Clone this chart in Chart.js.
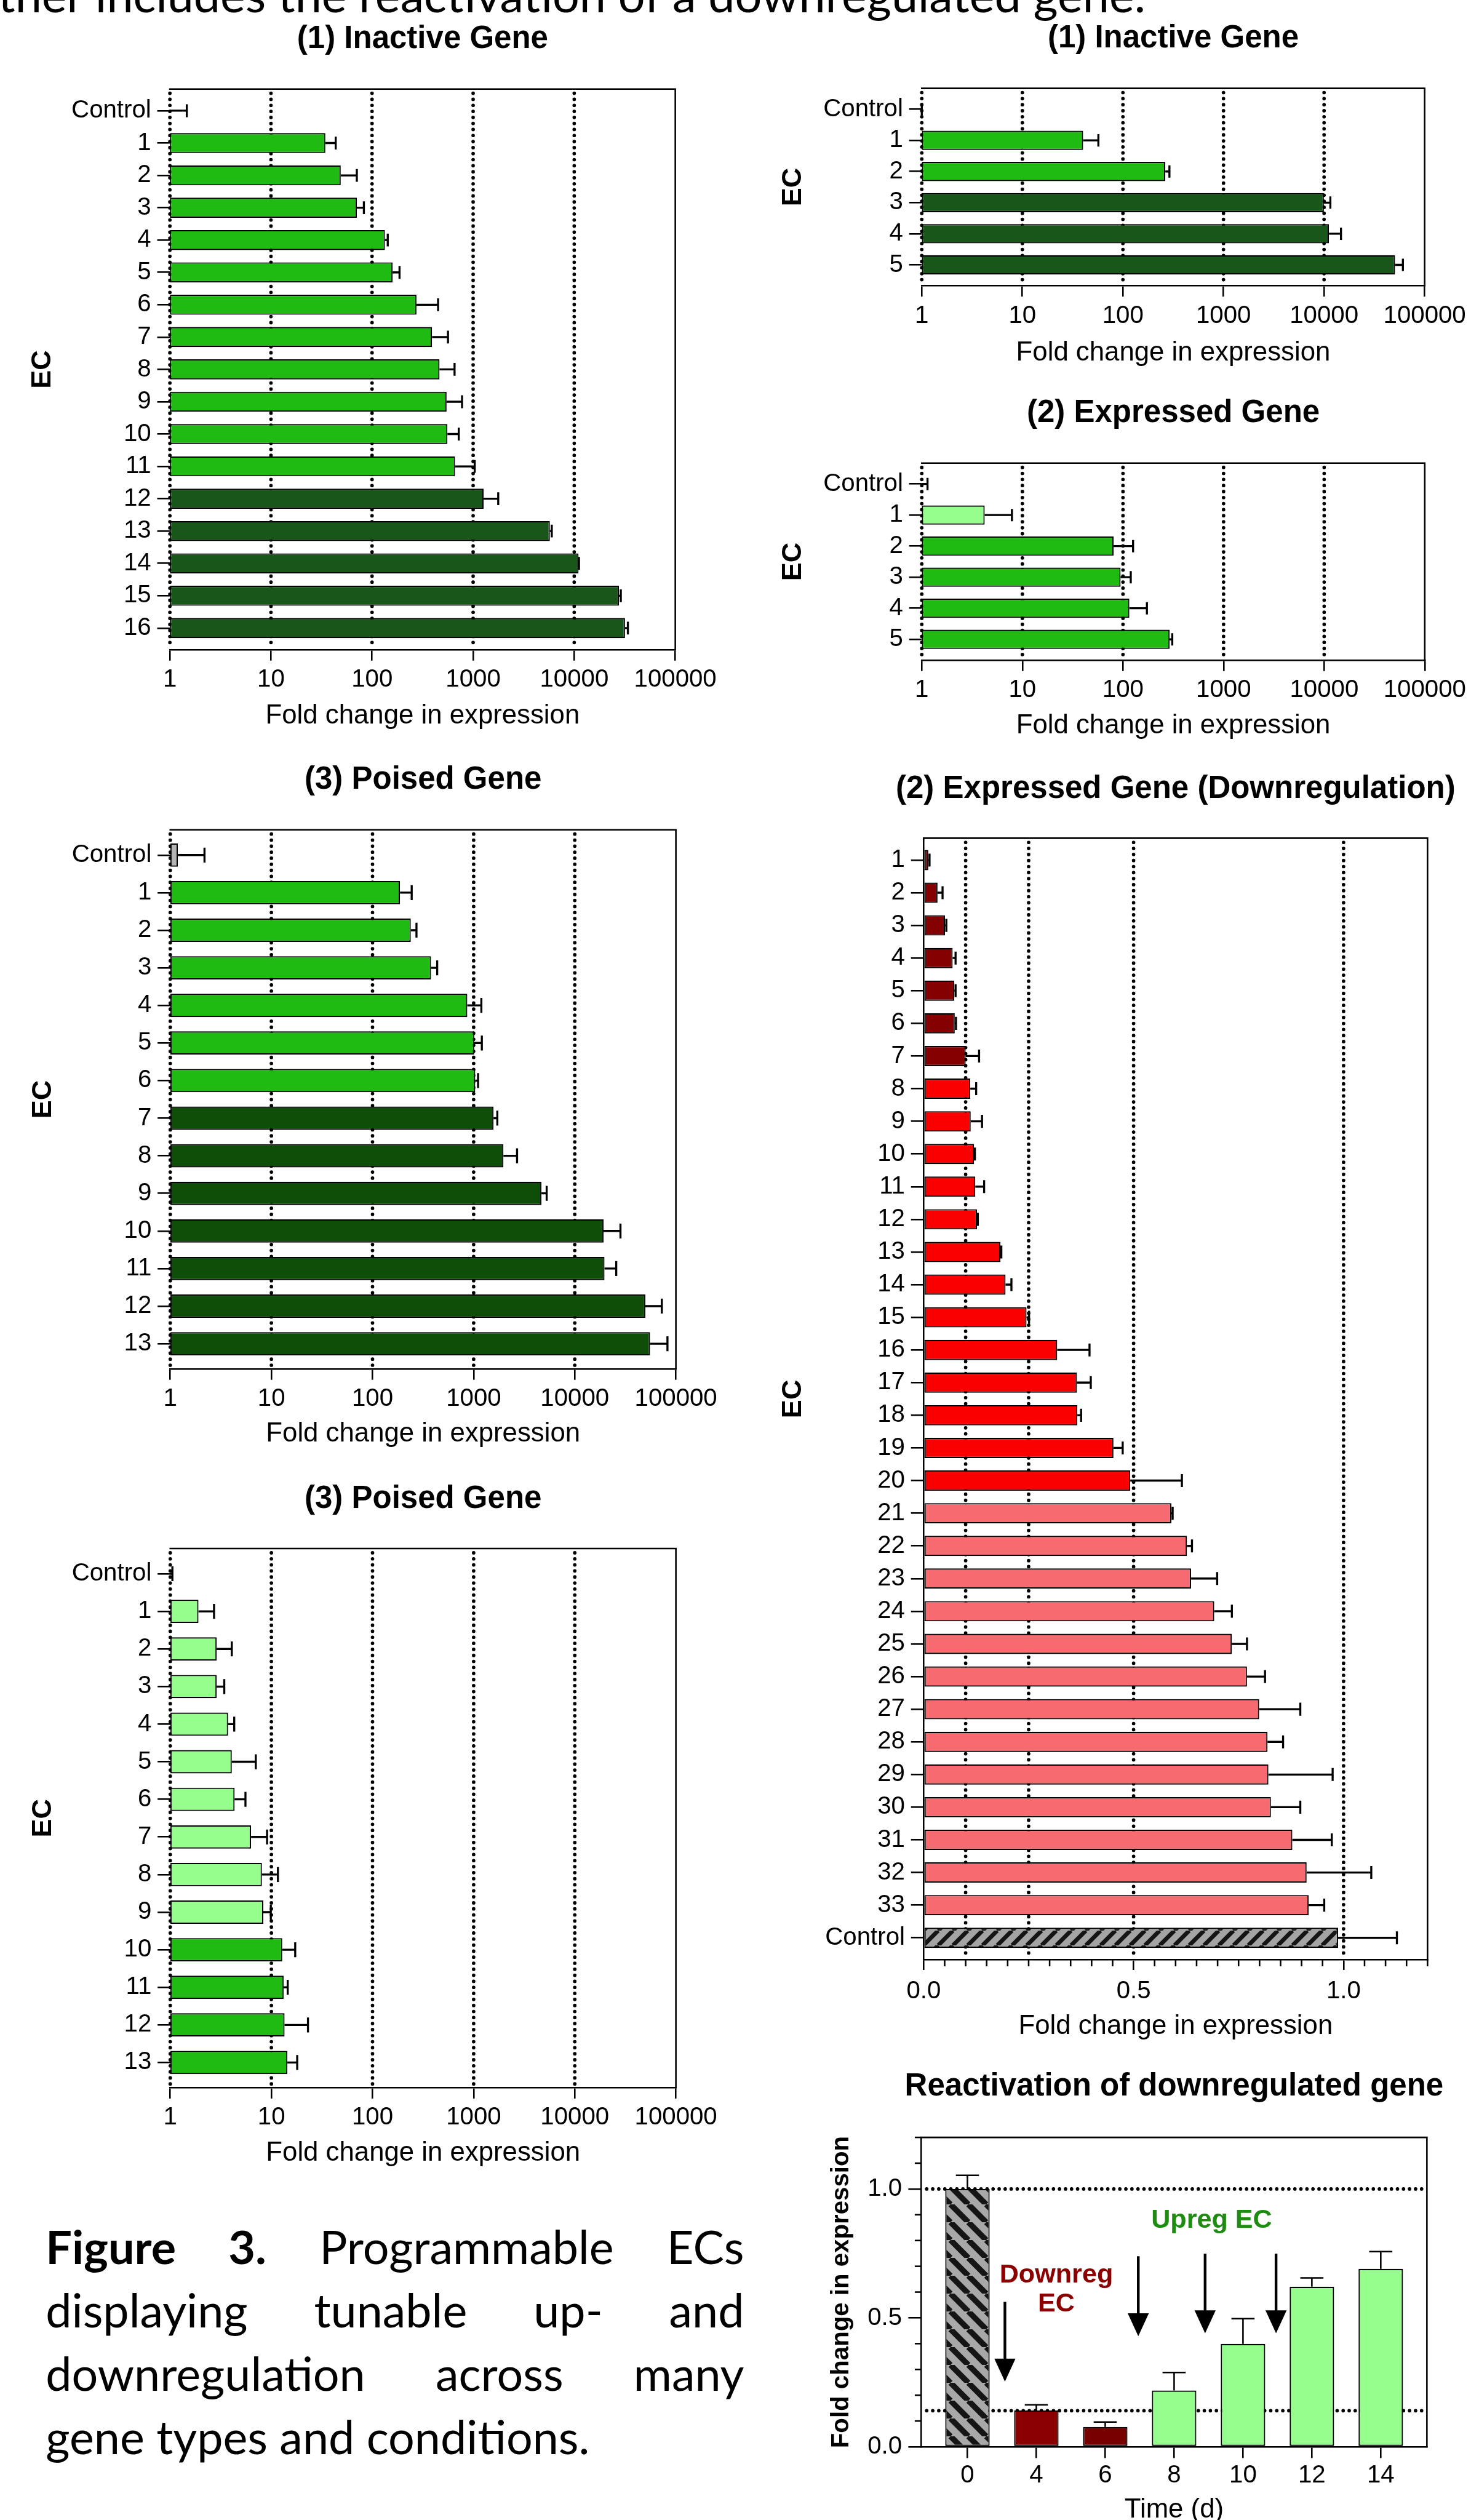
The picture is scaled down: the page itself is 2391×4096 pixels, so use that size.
<!DOCTYPE html>
<html>
<head>
<meta charset="utf-8">
<script src="https://cdn.jsdelivr.net/npm/chart.js@4.4.1/dist/chart.umd.min.js"></script>
<style>
html, body { margin:0; padding:0; background:#fff; }
body { width:2391px; height:4096px; overflow:hidden; position:relative; }
canvas { position:absolute; }
.txt { position:absolute; font-family:Lato, 'Open Sans', sans-serif; color:#000; white-space:nowrap; line-height:1; }
</style>
</head>
<body>
<script>
// ===================== DATA =====================
const logTickValues = [1, 10, 100, 1000, 10000, 100000];
const logTickLabels = ['1', '10', '100', '1000', '10000', '100000'];

// (1) Inactive Gene — left, 16 ECs
const inact16Labels = ['Control','1','2','3','4','5','6','7','8','9','10','11','12','13','14','15','16'];
const inact16Values = [1, 34.5, 49, 70.7, 134, 160, 275, 392, 465, 546, 557, 662, 1271, 5741, 11040, 27700, 31800];
const inact16ErrEnd = [1.47, 43.7, 70.7, 83, 143, 187, 450, 564, 655, 777, 721, 1037, 1771, 5997, 11150, 28900, 33950];
const inact16Groups = ['ctrl','mid','mid','mid','mid','mid','mid','mid','mid','mid','mid','mid','dark','dark','dark','dark','dark'];

// (1) Inactive Gene — right, 5 ECs
const inact5Labels = ['Control','1','2','3','4','5'];
const inact5Values = [1, 40.2, 264, 9960, 11190, 50800];
const inact5ErrEnd = [1, 57, 290, 11550, 14730, 60800];
const inact5Groups = ['ctrl','mid','mid','dark','dark','dark'];

// (2) Expressed Gene
const exprLabels = ['Control','1','2','3','4','5'];
const exprValues = [1, 4.22, 80.8, 94.7, 115.7, 290.6];
const exprErrEnd = [1.14, 7.87, 126, 119.5, 173, 309];
const exprGroups = ['ctrl','pale','mid','mid','mid','mid'];

// (3) Poised Gene — strong
const poised1Labels = ['Control','1','2','3','4','5','6','7','8','9','10','11','12','13'];
const poised1Values = [1.19, 187, 239, 379, 865, 1014, 1037, 1574, 1971, 4690, 19250, 19670, 49900, 55500];
const poised1ErrEnd = [2.18, 244, 272, 436, 1192, 1205, 1106, 1715, 2687, 5274, 28300, 25700, 72600, 82500];
const poised1Groups = ['grey','mid','mid','mid','mid','mid','mid','dark2','dark2','dark2','dark2','dark2','dark2','dark2'];

// (3) Poised Gene — weak
const poised2Labels = ['Control','1','2','3','4','5','6','7','8','9','10','11','12','13'];
const poised2Values = [1, 1.90, 2.88, 2.88, 3.73, 4.06, 4.33, 6.3, 8.06, 8.32, 12.8, 13.2, 13.5, 14.4];
const poised2ErrEnd = [1.05, 2.71, 4.06, 3.42, 4.29, 7.01, 5.54, 9.06, 11.6, 9.87, 17.2, 14.5, 23, 18];
const poised2Groups = ['ctrl','pale','pale','pale','pale','pale','pale','pale','pale','pale','mid','mid','mid','mid'];

// (2) Expressed Gene (Downregulation)
const downLabels = ['1','2','3','4','5','6','7','8','9','10','11','12','13','14','15','16','17','18','19','20','21','22','23','24','25','26','27','28','29','30','31','32','33','Control'];
const downValues = [0.011,0.033,0.051,0.069,0.073,0.074,0.100,0.111,0.112,0.120,0.123,0.127,0.183,0.195,0.245,0.318,0.365,0.366,0.452,0.492,0.590,0.627,0.637,0.692,0.734,0.770,0.799,0.819,0.821,0.827,0.878,0.912,0.917,0.987];
const downErrEnd = [0.014,0.045,0.054,0.076,0.076,0.077,0.132,0.125,0.139,0.122,0.144,0.129,0.185,0.209,0.251,0.395,0.398,0.375,0.474,0.615,0.593,0.639,0.699,0.734,0.770,0.813,0.897,0.856,0.974,0.897,0.972,1.066,0.954,1.127];
const downGroups = ['dred','dred','dred','dred','dred','dred','dred','red','red','red','red','red','red','red','red','red','red','red','red','red','pink','pink','pink','pink','pink','pink','pink','pink','pink','pink','pink','pink','pink','hatchF'];
const downTickValues = [0, 0.5, 1.0];
const downTickLabels = ['0.0', '0.5', '1.0'];
const downMinorTicks = [0.05,0.1,0.15,0.2,0.25,0.3,0.35,0.4,0.45,0.55,0.6,0.65,0.7,0.75,0.8,0.85,0.9,0.95,1.05,1.1,1.15,1.2];
const downRefLines = [0.1, 0.25, 0.5, 1.0];

// Reactivation of downregulated gene
const reactDays = ['0','4','6','8','10','12','14'];
const reactValues = [1.0, 0.141, 0.077, 0.218, 0.399, 0.621, 0.690];
const reactErrEnd = [1.053, 0.163, 0.096, 0.288, 0.497, 0.655, 0.757];
const reactGroups = ['hatchB','day4','day6','pale','pale','pale','pale'];
const reactTickValues = [0, 0.5, 1.0];
const reactTickLabels = ['0.0', '0.5', '1.0'];
const reactMinorTicks = [0.1,0.2,0.3,0.4,0.6,0.7,0.8,0.9,1.1,1.2];
const reactRefLines = [1.0, 0.14];
const arrowX    = [0.544, 2.48, 3.45, 4.48];
const arrowFrom = [0.562, 0.739, 0.749, 0.749];
const arrowTo   = [0.253, 0.429, 0.440, 0.440];
const noteTexts = ['Downreg', 'EC', 'Upreg EC'];
const noteX     = [1.29, 1.29, 3.545];
const noteY     = [0.6655, 0.5525, 0.879];
const noteKind  = ['down', 'down', 'up'];

// ===================== STYLE / LAYOUT =====================
const S = 0.981;
const px = v => v * S;
const FF = "'Liberation Sans', Arial, Helvetica, sans-serif";

function hatch(bg, period, lw, dir) {
  const p = Math.max(4, Math.round(px(period)));
  const c = document.createElement('canvas'); c.width = p; c.height = p;
  const g = c.getContext('2d');
  g.fillStyle = bg; g.fillRect(0, 0, p, p);
  g.strokeStyle = '#151515'; g.lineWidth = px(lw);
  g.beginPath();
  for (const k of [-p, 0, p]) {
    if (dir === '/') { g.moveTo(k, p); g.lineTo(k + p, 0); }
    else { g.moveTo(k, 0); g.lineTo(k + p, p); }
  }
  g.stroke();
  return g.createPattern(c, 'repeat');
}

const COLORS = {
  ctrl: '#B0B0B0', grey: '#B4B4B4',
  mid: '#1FBB12', dark: '#18561A', dark2: '#0E4E08', pale: '#96FE8C',
  dred: '#850000', red: '#FA0000', pink: '#F76A70',
  day4: '#8B0000', day6: '#780000',
  hatchF: hatch('#A4A4A4', 24.6, 7, '/'),
  hatchB: hatch('#A8A8A8', 30, 9.5, '\\')
};

function addCanvas(l, t, r, b) {
  const c = document.createElement('canvas');
  c.width = Math.round(px(r - l));
  c.height = Math.round(px(b - t));
  c.style.left = px(l) + 'px';
  c.style.top = px(t) + 'px';
  document.body.appendChild(c);
  return c;
}

const framePlugin = {
  id: 'frame',
  beforeDatasetsDraw(chart, args, o) {
    const { ctx, chartArea: a } = chart;
    const sc = chart.scales[o.refAxis];
    ctx.save();
    ctx.strokeStyle = '#000'; ctx.lineWidth = px(5.8); ctx.lineCap = 'round';
    ctx.setLineDash([0, px(10)]);
    (o.refs || []).forEach(v => {
      const p = sc.getPixelForValue(v);
      ctx.beginPath();
      if (o.refAxis === 'x') { ctx.moveTo(p, a.top + px(7)); ctx.lineTo(p, a.bottom - px(2)); }
      else { ctx.moveTo(a.left + px(9), p); ctx.lineTo(a.right - px(2), p); }
      ctx.stroke();
    });
    ctx.restore();
  },
  afterDatasetsDraw(chart, args, o) {
    const { ctx, chartArea: a } = chart;
    ctx.save();
    ctx.strokeStyle = '#000'; ctx.lineWidth = px(2.6); ctx.lineCap = 'square';
    ctx.beginPath();
    ctx.moveTo(a.left, a.top); ctx.lineTo(a.right, a.top); ctx.lineTo(a.right, a.bottom);
    ctx.stroke();
    if (o.minor) {
      const sc = chart.scales[o.minorAxis];
      ctx.lineCap = 'butt';
      o.minor.forEach(v => {
        const p = sc.getPixelForValue(v);
        ctx.beginPath();
        if (o.minorAxis === 'x') { ctx.moveTo(p, a.bottom); ctx.lineTo(p, a.bottom + px(o.minorLen)); }
        else { ctx.moveTo(a.left, p); ctx.lineTo(a.left - px(o.minorLen), p); }
        ctx.stroke();
      });
    }
    ctx.restore();
  }
};

const errPlugin = {
  id: 'err',
  afterDatasetsDraw(chart, args, o) {
    const ds = chart.data.datasets[0];
    const meta = chart.getDatasetMeta(0);
    const horiz = chart.options.indexAxis === 'y';
    const vs = horiz ? chart.scales.x : chart.scales.y;
    const ctx = chart.ctx;
    ctx.save();
    ctx.strokeStyle = '#000'; ctx.lineWidth = px(o.lw); ctx.lineCap = 'butt';
    meta.data.forEach((el, i) => {
      const end = ds.errEnd[i];
      if (end == null) return;
      const val = horiz ? ds.data[i].x : ds.data[i].y;
      const p0 = vs.getPixelForValue(val), p1 = vs.getPixelForValue(end);
      const pr = el.getProps(['x', 'y', 'width', 'height'], true);
      const half = (horiz ? pr.height : pr.width) * o.capFrac / 2;
      ctx.beginPath();
      if (horiz) {
        ctx.moveTo(p0, pr.y); ctx.lineTo(p1, pr.y);
        ctx.moveTo(p1, pr.y - half); ctx.lineTo(p1, pr.y + half);
      } else {
        ctx.moveTo(pr.x, p0); ctx.lineTo(pr.x, p1);
        ctx.moveTo(pr.x - half, p1); ctx.lineTo(pr.x + half, p1);
      }
      ctx.stroke();
    });
    ctx.restore();
  }
};

const titlePlugin = {
  id: 'ptitle',
  afterDraw(chart, args, o) {
    const { ctx, chartArea: a } = chart;
    ctx.save();
    ctx.fillStyle = '#000';
    ctx.font = `bold ${px(52)}px ${FF}`;
    ctx.textAlign = 'center'; ctx.textBaseline = 'middle';
    ctx.fillText(o.text, (a.left + a.right) / 2, a.top - px(o.offset));
    ctx.restore();
  }
};

const annotPlugin = {
  id: 'annot',
  afterDatasetsDraw(chart) {
    const { ctx } = chart;
    const xs = chart.scales.x, ys = chart.scales.y;
    ctx.save();
    ctx.fillStyle = '#000'; ctx.strokeStyle = '#000'; ctx.lineWidth = px(4.5);
    arrowX.forEach((xv, i) => {
      const x = xs.getPixelForValue(xv);
      const y0 = ys.getPixelForValue(arrowFrom[i]);
      const y1 = ys.getPixelForValue(arrowTo[i]);
      const hh = px(38), hw = px(17.5);
      ctx.beginPath(); ctx.moveTo(x, y0); ctx.lineTo(x, y1 - hh + px(2)); ctx.stroke();
      ctx.beginPath(); ctx.moveTo(x - hw, y1 - hh); ctx.lineTo(x + hw, y1 - hh); ctx.lineTo(x, y1); ctx.closePath(); ctx.fill();
    });
    ctx.font = `bold ${px(44)}px ${FF}`;
    ctx.textAlign = 'center'; ctx.textBaseline = 'middle';
    noteTexts.forEach((t, i) => {
      ctx.fillStyle = noteKind[i] === 'down' ? '#8B0000' : '#1E8C12';
      ctx.fillText(t, xs.getPixelForValue(noteX[i]), ys.getPixelForValue(noteY[i]));
    });
    ctx.restore();
  }
};

Chart.defaults.font.family = FF;
Chart.defaults.color = '#000';

const EC_SIZE = 46;

function buildH(o) {
  const [pl, pt, pr, pb] = o.plot;
  const cL = o.ecX - 0.6 * EC_SIZE - 2;
  const cT = o.titleY - 42;
  const cR = o.canvasRight;
  const cB = o.axisTitleY + 0.6 * 44.6 + 2;
  const canvas = addCanvas(cL, cT, cR, cB);
  const n = o.labels.length;
  const tl = o.xTickLen;
  new Chart(canvas, {
    type: 'bar',
    data: { datasets: [{
      data: o.values.map((v, i) => ({ x: v, y: i })),
      errEnd: o.errs,
      backgroundColor: o.groups.map(g => COLORS[g]),
      borderColor: '#000', borderWidth: px(2.2), borderSkipped: false,
      barPercentage: 0.62, categoryPercentage: 1
    }]},
    options: {
      indexAxis: 'y', responsive: false, animation: false, devicePixelRatio: 1,
      layout: { padding: { left: 0, top: px(pt - cT), right: px(cR - pr), bottom: 0 } },
      plugins: {
        legend: { display: false }, tooltip: { enabled: false }, title: { display: false },
        frame: { refs: o.refs, refAxis: 'x', minor: o.minor, minorAxis: 'x', minorLen: 11 },
        err: { lw: 3.4, capFrac: 0.64 },
        ptitle: { text: o.title, offset: pt - o.titleY }
      },
      scales: {
        x: {
          type: o.xType, position: 'bottom', min: o.xMin, max: o.xMax, bounds: 'data', offset: false,
          afterBuildTicks: s => { s.ticks = o.xTicks.map(v => ({ value: v })); },
          afterFit: s => { s.height = px(cB - pb); },
          ticks: {
            autoSkip: false, maxRotation: 0, minRotation: 0, color: '#000',
            font: { family: FF, size: px(41), lineHeight: 1.2 },
            padding: px(o.tickLabelY - pb - tl - 0.6 * 41),
            callback: (v, i) => o.xTickLabels[i]
          },
          grid: { display: true, offset: false, drawOnChartArea: false, drawTicks: true, tickLength: px(tl), tickWidth: px(2.6), tickColor: '#000', color: '#000', lineWidth: px(2.6) },
          border: { display: true, color: '#000', width: px(2.6) },
          title: { display: true, text: 'Fold change in expression', color: '#000', font: { family: FF, size: px(44.6), lineHeight: 1.2 }, padding: { top: 0, bottom: px(2) } }
        },
        y: {
          type: 'linear', min: -0.67, max: n - 1 + 0.67, reverse: true, bounds: 'data', offset: false,
          afterBuildTicks: s => { s.ticks = o.labels.map((_, i) => ({ value: i })); },
          afterFit: s => { s.width = px(pl - cL); },
          ticks: {
            autoSkip: false, color: '#000',
            font: { family: FF, size: px(41), lineHeight: 1.2 },
            padding: px(10),
            callback: (v, i) => o.labels[i]
          },
          grid: { display: true, offset: false, drawOnChartArea: false, drawTicks: true, tickLength: px(21), tickWidth: px(2.6), tickColor: '#000', color: '#000', lineWidth: px(2.6) },
          border: { display: !!o.leftSolid, color: '#000', width: px(2.6) },
          title: { display: true, text: 'EC', color: '#000', font: { family: FF, size: px(EC_SIZE), weight: 'bold', lineHeight: 1.2 }, padding: { top: px(2), bottom: 0 } }
        }
      }
    },
    plugins: [framePlugin, errPlugin, titlePlugin]
  });
}

const LOG = { xType: 'logarithmic', xMin: 1, xMax: 100000, xTicks: logTickValues, xTickLabels: logTickLabels, refs: [1, 10, 100, 1000, 10000], xTickLen: 18 };

buildH(Object.assign({}, LOG, {
  labels: inact16Labels, values: inact16Values, errs: inact16ErrEnd, groups: inact16Groups,
  title: '(1) Inactive Gene', plot: [281.7, 147.5, 1119, 1076.2], titleY: 65.4, ecX: 71.6,
  tickLabelY: 1126, axisTitleY: 1186, canvasRight: 1205
}));
buildH(Object.assign({}, LOG, {
  labels: inact5Labels, values: inact5Values, errs: inact5ErrEnd, groups: inact5Groups,
  title: '(1) Inactive Gene', plot: [1526.9, 146.3, 2365, 473], titleY: 64.3, ecX: 1314.6,
  tickLabelY: 523, axisTitleY: 584.5, canvasRight: 2436
}));
buildH(Object.assign({}, LOG, {
  labels: exprLabels, values: exprValues, errs: exprErrEnd, groups: exprGroups,
  title: '(2) Expressed Gene', plot: [1526.9, 767.6, 2365, 1094.2], titleY: 685.4, ecX: 1314.6,
  tickLabelY: 1144, axisTitleY: 1203, canvasRight: 2436
}));
buildH(Object.assign({}, LOG, {
  labels: poised1Labels, values: poised1Values, errs: poised1ErrEnd, groups: poised1Groups,
  title: '(3) Poised Gene', plot: [281.7, 1374.7, 1119, 2268], titleY: 1292.5, ecX: 72,
  tickLabelY: 2317.8, axisTitleY: 2375.8, canvasRight: 1205
}));
buildH(Object.assign({}, LOG, {
  labels: poised2Labels, values: poised2Values, errs: poised2ErrEnd, groups: poised2Groups,
  title: '(3) Poised Gene', plot: [281.7, 2565.8, 1119, 3459.5], titleY: 2484.4, ecX: 72,
  tickLabelY: 3509, axisTitleY: 3568, canvasRight: 1205
}));
buildH({
  labels: downLabels, values: downValues, errs: downErrEnd, groups: downGroups,
  title: '(2) Expressed Gene (Downregulation)', plot: [1530, 1388.4, 2365, 3246.2], titleY: 1307.7, ecX: 1314.6,
  tickLabelY: 3298.8, axisTitleY: 3356.8, canvasRight: 2436,
  xType: 'linear', xMin: 0, xMax: 1.2, xTicks: downTickValues, xTickLabels: downTickLabels,
  refs: downRefLines, minor: downMinorTicks, xTickLen: 17, leftSolid: true
});

// Reactivation (vertical bars)
(function () {
  const pl = 1526.9, pt = 3541.5, pr = 2365, pb = 4054.2;
  const titleY = 3458, yTitleX = 1395, tickLabelY = 4102.5, axisTitleY = 4159;
  const cL = yTitleX - 0.6 * 41 - 2, cT = titleY - 42, cR = 2436, cB = axisTitleY + 0.6 * 44.6 + 2;
  const canvas = addCanvas(cL, cT, cR, cB);
  const n = reactDays.length;
  const tl = 18.7;
  new Chart(canvas, {
    type: 'bar',
    data: { datasets: [{
      data: reactValues.map((v, i) => ({ x: i, y: v })),
      errEnd: reactErrEnd,
      backgroundColor: reactGroups.map(g => COLORS[g]),
      borderColor: '#000', borderWidth: px(2.2), borderSkipped: false,
      barPercentage: 0.645, categoryPercentage: 1
    }]},
    options: {
      responsive: false, animation: false, devicePixelRatio: 1,
      layout: { padding: { left: 0, top: px(pt - cT), right: px(cR - pr), bottom: 0 } },
      plugins: {
        legend: { display: false }, tooltip: { enabled: false }, title: { display: false },
        frame: { refs: reactRefLines, refAxis: 'y', minor: reactMinorTicks, minorAxis: 'y', minorLen: 10.8 },
        err: { lw: 2.6, capFrac: 0.52 },
        ptitle: { text: 'Reactivation of downregulated gene', offset: pt - titleY }
      },
      scales: {
        x: {
          type: 'linear', position: 'bottom', min: -0.67, max: n - 1 + 0.67, bounds: 'data', offset: false,
          afterBuildTicks: s => { s.ticks = reactDays.map((_, i) => ({ value: i })); },
          afterFit: s => { s.height = px(cB - pb); },
          ticks: {
            autoSkip: false, maxRotation: 0, minRotation: 0, color: '#000',
            font: { family: FF, size: px(41), lineHeight: 1.2 },
            padding: px(tickLabelY - pb - tl - 0.6 * 41),
            callback: (v, i) => reactDays[i]
          },
          grid: { display: true, offset: false, drawOnChartArea: false, drawTicks: true, tickLength: px(tl), tickWidth: px(2.6), tickColor: '#000', color: '#000', lineWidth: px(2.6) },
          border: { display: true, color: '#000', width: px(2.6) },
          title: { display: true, text: 'Time (d)', color: '#000', font: { family: FF, size: px(44.6), lineHeight: 1.2 }, padding: { top: 0, bottom: px(2) } }
        },
        y: {
          type: 'linear', min: 0, max: 1.2, bounds: 'data', offset: false,
          afterBuildTicks: s => { s.ticks = reactTickValues.map(v => ({ value: v })); },
          afterFit: s => { s.width = px(pl - cL); },
          ticks: {
            autoSkip: false, color: '#000',
            font: { family: FF, size: px(41), lineHeight: 1.2 },
            padding: px(10.5),
            callback: (v, i) => reactTickLabels[i]
          },
          grid: { display: true, offset: false, drawOnChartArea: false, drawTicks: true, tickLength: px(21.5), tickWidth: px(2.6), tickColor: '#000', color: '#000', lineWidth: px(2.6) },
          border: { display: true, color: '#000', width: px(2.6) },
          title: { display: true, text: 'Fold change in expression', color: '#000', font: { family: FF, size: px(41), weight: 'bold', lineHeight: 1.2 }, padding: { top: px(2), bottom: 0 } }
        }
      }
    },
    plugins: [framePlugin, errPlugin, titlePlugin, annotPlugin]
  });
})();

// ===================== TEXT (outside charts) =====================
const CAP_SIZE = px(77);
const BASE_K = 0.887; // Lato baseline offset for line-height:1

// top line (cut off at the top of the page)
(function () {
  const d = document.createElement('div');
  d.className = 'txt';
  d.style.fontSize = CAP_SIZE + 'px';
  d.textContent = 'ther includes the reactivation of a downregulated gene.';
  document.body.appendChild(d);
  const w = d.offsetWidth;
  const target = px(1898 + 3);
  d.style.left = px(-3) + 'px';
  d.style.top = (px(20) - BASE_K * CAP_SIZE) + 'px';
  d.style.transformOrigin = '0 0';
  d.style.transform = `scaleX(${target / w})`;
})();

// caption
(function () {
  const lines = [
    '<b>Figure 3.</b> Programmable ECs',
    'displaying tunable up- and',
    'downregulation across many',
    'gene types and conditions.'
  ];
  const baselines = [3751, 3856, 3961, 4066];
  lines.forEach((html, i) => {
    const d = document.createElement('div');
    d.className = 'txt';
    d.style.fontSize = CAP_SIZE + 'px';
    d.style.left = px(75.7) + 'px';
    d.style.top = (px(baselines[i]) - BASE_K * CAP_SIZE) + 'px';
    if (i < lines.length - 1) {
      d.style.width = px(1233 - 75.7) + 'px';
      d.style.whiteSpace = 'normal';
      d.style.textAlign = 'justify';
      d.style.textAlignLast = 'justify';
    }
    d.innerHTML = html;
    document.body.appendChild(d);
  });
})();
</script>
</body>
</html>
